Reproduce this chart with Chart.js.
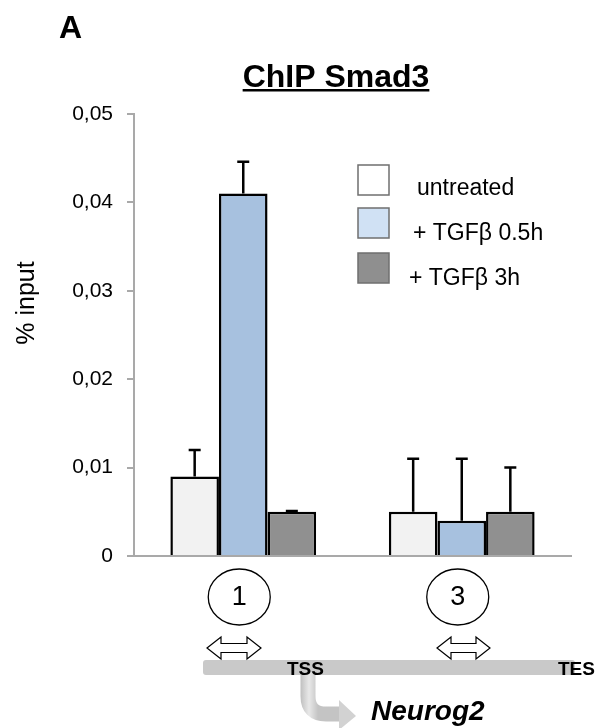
<!DOCTYPE html>
<html>
<head>
<meta charset="utf-8">
<script src="https://cdn.jsdelivr.net/npm/chart.js@4.4.0/dist/chart.umd.min.js"></script>
<style>
  body { margin: 0; background: #fff; }
  #wrap { width: 606px; height: 728px; position: relative; }
</style>
</head>
<body>
<div id="wrap"><canvas id="chipChart"></canvas></div>
<script>
// Data
const regions = ['1', '3'];
const untreated = [0.009, 0.005];
const untreatedErr = [0.003, 0.006];
const tgf05 = [0.041, 0.004];
const tgf05Err = [0.0036, 0.007];
const tgf3 = [0.005, 0.005];
const tgf3Err = [0.0001, 0.005];
const seriesNames = ['untreated', '+ TGFβ 0.5h', '+ TGFβ 3h'];
const yTicks = [0, 0.01, 0.02, 0.03, 0.04, 0.05];

const FONT = '"Liberation Sans", Arial, sans-serif';

// upward error bars, taken from each dataset's errors array
const errorBars = {
    id: 'errorBars',
    afterDatasetsDraw(chart) {
        const ctx = chart.ctx;
        const y = chart.scales.y;
        ctx.save();
        ctx.strokeStyle = '#000';
        ctx.lineWidth = 2.5;
        chart.data.datasets.forEach((ds, i) => {
            const meta = chart.getDatasetMeta(i);
            meta.data.forEach((bar, j) => {
                const top = y.getPixelForValue(ds.data[j] + ds.errors[j]);
                ctx.beginPath();
                ctx.moveTo(bar.x, bar.y);
                ctx.lineTo(bar.x, top);
                ctx.moveTo(bar.x - 6, top);
                ctx.lineTo(bar.x + 6, top);
                ctx.stroke();
            });
        });
        ctx.restore();
    }
};

function doubleArrow(ctx, x1, x2, cy) {
    const hl = 14, hh = 11, sh = 4.5;
    ctx.beginPath();
    ctx.moveTo(x1, cy);
    ctx.lineTo(x1 + hl, cy - hh);
    ctx.lineTo(x1 + hl, cy - sh);
    ctx.lineTo(x2 - hl, cy - sh);
    ctx.lineTo(x2 - hl, cy - hh);
    ctx.lineTo(x2, cy);
    ctx.lineTo(x2 - hl, cy + hh);
    ctx.lineTo(x2 - hl, cy + sh);
    ctx.lineTo(x1 + hl, cy + sh);
    ctx.lineTo(x1 + hl, cy + hh);
    ctx.closePath();
    ctx.fillStyle = '#fff';
    ctx.fill();
    ctx.strokeStyle = '#000';
    ctx.lineWidth = 1.2;
    ctx.stroke();
}

// title, legend, region circles and gene sketch
const decorations = {
    id: 'decorations',
    afterDraw(chart) {
        const ctx = chart.ctx;
        const x = chart.scales.x;
        ctx.save();

        // panel letter
        ctx.fillStyle = '#000';
        ctx.font = 'bold 32px ' + FONT;
        ctx.textBaseline = 'alphabetic';
        ctx.textAlign = 'left';
        ctx.fillText('A', 59, 38);

        // title, underlined
        ctx.font = 'bold 32px ' + FONT;
        ctx.textAlign = 'center';
        const title = 'ChIP Smad3';
        ctx.fillText(title, 336, 87);
        const tw = ctx.measureText(title).width;
        ctx.fillRect(336 - tw / 2, 89, tw, 2.5);

        // y axis title
        ctx.save();
        ctx.translate(27, 303);
        ctx.rotate(-Math.PI / 2);
        ctx.font = '25px ' + FONT;
        ctx.textBaseline = 'middle';
        ctx.fillText('% input', 0, 0);
        ctx.restore();

        // legend
        const legFill = ['#ffffff', '#d0e1f4', '#8f8f8f'];
        const legY = [165, 208, 253];
        const legTextX = [417, 413, 409];
        const legBase = [195, 240, 285];
        ctx.font = '23px ' + FONT;
        ctx.textAlign = 'left';
        seriesNames.forEach((name, i) => {
            ctx.fillStyle = legFill[i];
            ctx.fillRect(358, legY[i], 31, 30);
            ctx.strokeStyle = '#6f6f6f';
            ctx.lineWidth = 1.5;
            ctx.strokeRect(358, legY[i], 31, 30);
            ctx.fillStyle = '#000';
            ctx.fillText(name, legTextX[i], legBase[i]);
        });

        // region labels in circles under each group
        ctx.font = '27px ' + FONT;
        ctx.textAlign = 'center';
        ctx.textBaseline = 'middle';
        regions.forEach((r, i) => {
            const cx = x.getPixelForValue(i) - 4;
            ctx.beginPath();
            ctx.ellipse(cx, 597, 31, 28, 0, 0, Math.PI * 2);
            ctx.strokeStyle = '#000';
            ctx.lineWidth = 1.3;
            ctx.stroke();
            ctx.fillStyle = '#000';
            ctx.fillText(r, cx, 598);
        });

        // gene body
        ctx.fillStyle = '#c9c9c9';
        ctx.beginPath();
        ctx.roundRect(203, 660, 372, 15, 3);
        ctx.fill();

        doubleArrow(ctx, 207, 261, 648);
        doubleArrow(ctx, 437, 490, 648);

        // bent arrow from TSS
        const g = ctx.createLinearGradient(300, 0, 318, 0);
        g.addColorStop(0, '#bdbdbd');
        g.addColorStop(0.5, '#e8e8e8');
        g.addColorStop(1, '#c4c4c4');
        ctx.strokeStyle = g;
        ctx.lineWidth = 15;
        ctx.lineCap = 'butt';
        ctx.beginPath();
        ctx.moveTo(308, 672);
        ctx.lineTo(308, 696);
        ctx.quadraticCurveTo(308, 714, 326, 714);
        ctx.lineTo(340, 714);
        ctx.stroke();
        ctx.fillStyle = '#d2d2d2';
        ctx.beginPath();
        ctx.moveTo(339, 700);
        ctx.lineTo(356, 716);
        ctx.lineTo(339, 730);
        ctx.closePath();
        ctx.fill();

        ctx.fillStyle = '#000';
        ctx.textAlign = 'left';
        ctx.textBaseline = 'alphabetic';
        ctx.font = 'bold 19px ' + FONT;
        ctx.fillText('TSS', 287, 675);
        ctx.fillText('TES', 558, 675);
        ctx.font = 'italic bold 28px ' + FONT;
        ctx.fillText('Neurog2', 371, 720);

        ctx.restore();
    }
};

new Chart(document.getElementById('chipChart'), {
    type: 'bar',
    data: {
        labels: regions,
        datasets: [
            { label: seriesNames[0], data: untreated, errors: untreatedErr, backgroundColor: '#f2f2f2' },
            { label: seriesNames[1], data: tgf05, errors: tgf05Err, backgroundColor: '#a7c1df' },
            { label: seriesNames[2], data: tgf3, errors: tgf3Err, backgroundColor: '#909090' }
        ].map(ds => Object.assign(ds, {
            borderColor: '#000',
            borderWidth: 2.5,
            categoryPercentage: 0.667,
            barPercentage: 1.0
        }))
    },
    options: {
        responsive: true,
        maintainAspectRatio: false,
        animation: false,
        layout: { padding: { top: 114, right: 35, bottom: 172, left: 0 } },
        plugins: {
            legend: { display: false },
            tooltip: { enabled: false },
            title: { display: false }
        },
        scales: {
            x: {
                ticks: { display: false },
                grid: { display: false, drawTicks: false },
                border: { display: true, color: '#a9a9a9', width: 2 }
            },
            y: {
                min: 0,
                max: 0.05,
                afterFit: s => { s.width = 134; },
                afterBuildTicks: s => { s.ticks = yTicks.map(v => ({ value: v })); },
                ticks: {
                    padding: 14,
                    color: '#000',
                    font: { family: FONT, size: 21 },
                    callback: v => v === 0 ? '0' : v.toFixed(2).replace('.', ',')
                },
                grid: { drawOnChartArea: false, drawTicks: true, tickLength: 7, color: '#a9a9a9', lineWidth: 2 },
                border: { display: true, color: '#a9a9a9', width: 2 }
            }
        }
    },
    plugins: [errorBars, decorations]
});
</script>
</body>
</html>
